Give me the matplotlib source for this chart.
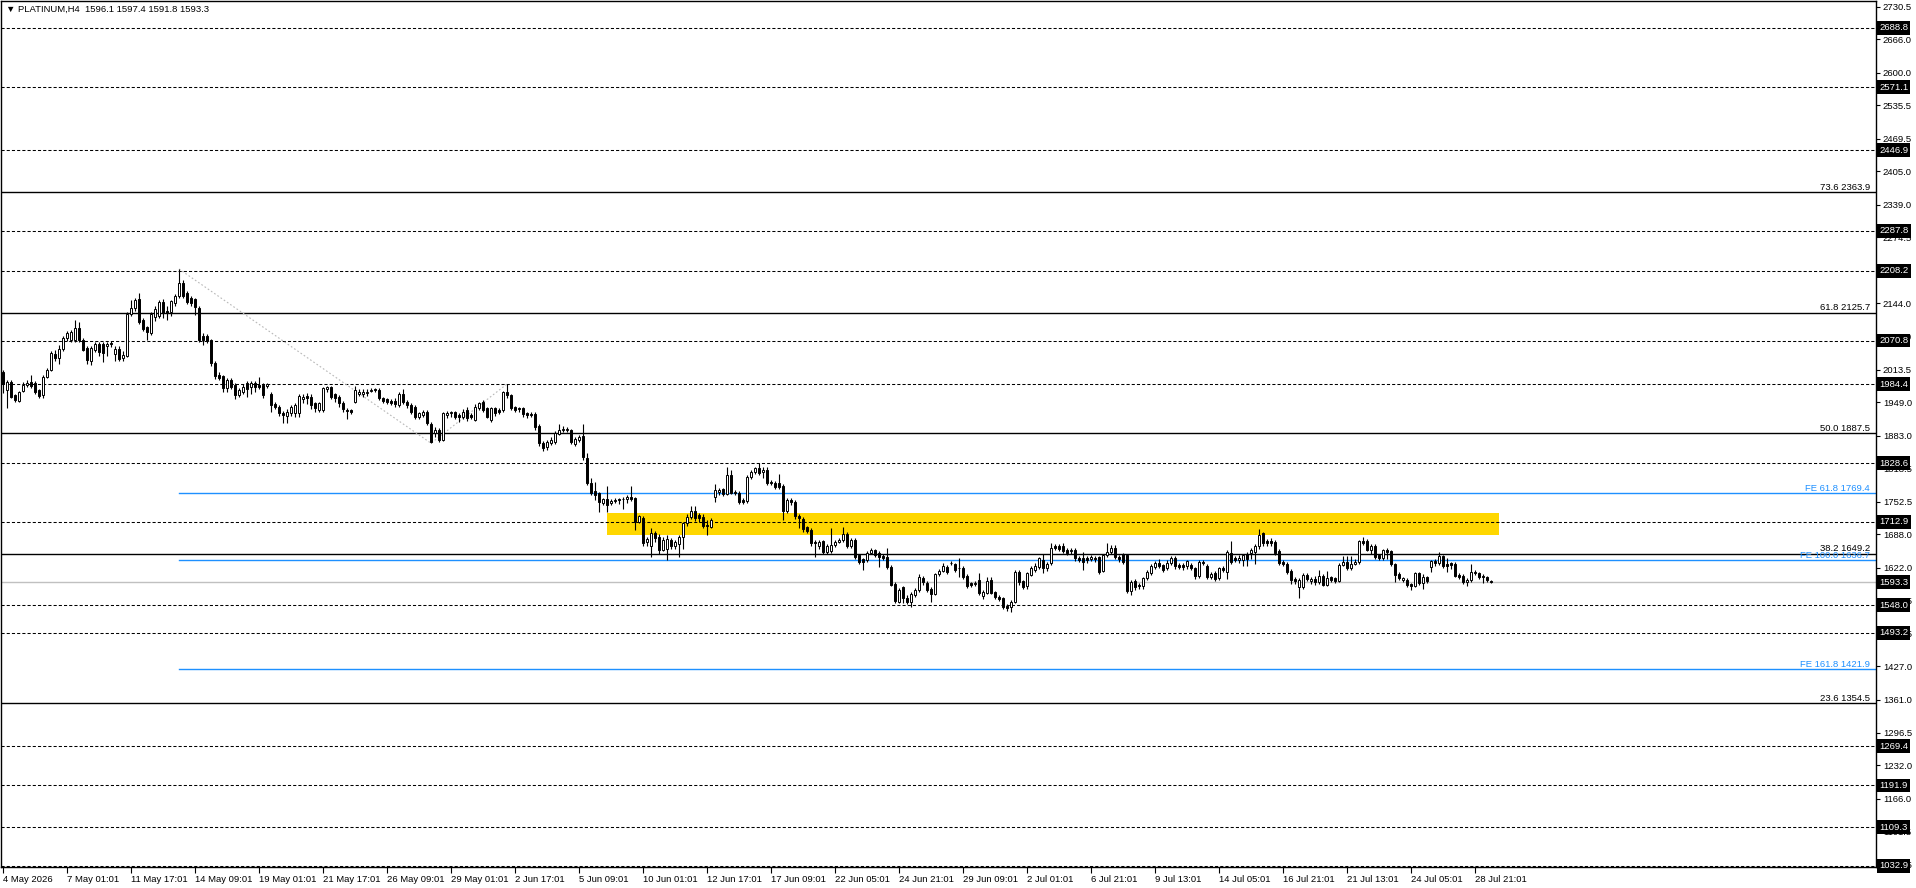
import matplotlib
matplotlib.use("Agg")
import matplotlib.pyplot as plt
from matplotlib.patches import Rectangle

plt.rcParams['font.family'] = ['Liberation Sans', 'DejaVu Sans']

# H4 candles (open, high, low, close)
opens = [2009, 1973, 1989, 1963, 1952, 1972, 1983, 1988, 1987, 1973, 1963, 1998, 2013, 2045, 2036, 2055, 2075, 2071, 2072, 2095,
         2072, 2057, 2030, 2052, 2064, 2064, 2061, 2065, 2045, 2055, 2036, 2040, 2123, 2135, 2152, 2112, 2097, 2086, 2118, 2119,
         2147, 2130, 2128, 2144, 2158, 2184, 2165, 2154, 2152, 2136, 2080, 2080, 2071, 2026, 2003, 2000, 1977, 1993, 1983, 1963,
         1970, 1986, 1980, 1986, 1983, 1983, 1982, 1966, 1945, 1940, 1928, 1921, 1927, 1927, 1927, 1956, 1962, 1960, 1947, 1934,
         1934, 1976, 1979, 1965, 1960, 1948, 1934, 1934, 1950, 1966, 1965, 1967, 1972, 1976, 1974, 1957, 1955, 1952, 1952, 1944,
         1966, 1950, 1944, 1940, 1920, 1924, 1930, 1906, 1888, 1894, 1875, 1924, 1927, 1929, 1924, 1920, 1934, 1924, 1914, 1937,
         1950, 1937, 1914, 1937, 1934, 1934, 1970, 1963, 1939, 1937, 1937, 1927, 1926, 1926, 1902, 1869, 1861, 1868, 1871, 1887,
         1894, 1894, 1894, 1867, 1874, 1882, 1838, 1789, 1774, 1769, 1749, 1757, 1749, 1753, 1757, 1757, 1757, 1762, 1759, 1713,
         1721, 1672, 1665, 1690, 1683, 1658, 1660, 1677, 1665, 1669, 1682, 1710, 1723, 1734, 1726, 1722, 1707, 1703, 1762, 1771,
         1777, 1767, 1806, 1772, 1770, 1756, 1753, 1802, 1811, 1820, 1812, 1816, 1792, 1790, 1789, 1783, 1735, 1756, 1752, 1724,
         1718, 1702, 1697, 1673, 1665, 1674, 1654, 1656, 1667, 1673, 1677, 1688, 1665, 1677, 1647, 1639, 1637, 1652, 1657, 1651,
         1645, 1644, 1624, 1590, 1555, 1583, 1562, 1555, 1568, 1578, 1601, 1592, 1581, 1571, 1609, 1616, 1624, 1631, 1629, 1622,
         1622, 1606, 1591, 1590, 1598, 1566, 1573, 1598, 1574, 1565, 1562, 1547, 1545, 1555, 1614, 1595, 1585, 1608, 1617, 1623,
         1638, 1621, 1631, 1665, 1665, 1665, 1658, 1656, 1658, 1641, 1641, 1641, 1639, 1641, 1643, 1616, 1647, 1654, 1662, 1644,
         1649, 1647, 1577, 1595, 1588, 1585, 1601, 1612, 1624, 1631, 1627, 1621, 1631, 1641, 1627, 1627, 1625, 1627, 1621, 1606,
         1634, 1626, 1603, 1612, 1601, 1621, 1614, 1651, 1641, 1637, 1637, 1649, 1651, 1654, 1664, 1690, 1674, 1674, 1672, 1656,
         1634, 1630, 1616, 1599, 1583, 1583, 1608, 1595, 1599, 1593, 1606, 1588, 1603, 1601, 1595, 1628, 1634, 1621, 1630, 1634,
         1675, 1674, 1657, 1665, 1647, 1641, 1657, 1655, 1629, 1610, 1597, 1598, 1590, 1586, 1611, 1591, 1603, 1624, 1635, 1631,
         1645, 1630, 1631, 1630, 1608, 1606, 1593, 1597, 1614, 1611, 1606, 1603, 1596.1]
highs = [2013, 1992, 1993, 1965, 1972, 1988, 1992, 2003, 1990, 1976, 2003, 2016, 2050, 2052, 2062, 2080, 2090, 2092, 2111, 2108,
         2075, 2060, 2060, 2068, 2068, 2067, 2068, 2070, 2060, 2060, 2050, 2127, 2150, 2155, 2165, 2116, 2100, 2127, 2140, 2150,
         2152, 2140, 2150, 2163, 2212, 2190, 2168, 2158, 2155, 2140, 2085, 2083, 2074, 2030, 2008, 2003, 1997, 1996, 1986, 1977,
         1985, 1990, 1990, 1990, 1998, 1986, 1987, 1970, 1950, 1943, 1932, 1935, 1944, 1947, 1965, 1965, 1968, 1965, 1950, 1950,
         1980, 1982, 1982, 1968, 1963, 1951, 1938, 1936, 1982, 1975, 1975, 1976, 1978, 1978, 1977, 1960, 1958, 1955, 1957, 1970,
         1975, 1953, 1948, 1943, 1930, 1933, 1933, 1910, 1900, 1898, 1930, 1932, 1932, 1932, 1928, 1935, 1940, 1927, 1945, 1950,
         1953, 1940, 1940, 1940, 1937, 1972, 1985, 1966, 1942, 1940, 1940, 1930, 1929, 1929, 1905, 1872, 1875, 1880, 1892, 1905,
         1902, 1900, 1897, 1880, 1885, 1905, 1848, 1800, 1792, 1772, 1760, 1783, 1757, 1760, 1760, 1762, 1765, 1783, 1762, 1727,
         1725, 1682, 1700, 1695, 1688, 1682, 1687, 1680, 1676, 1687, 1713, 1728, 1743, 1743, 1730, 1728, 1716, 1720, 1788, 1780,
         1780, 1822, 1815, 1776, 1773, 1760, 1805, 1815, 1822, 1828, 1822, 1822, 1795, 1794, 1808, 1787, 1760, 1760, 1756, 1728,
         1722, 1705, 1700, 1676, 1676, 1677, 1668, 1700, 1677, 1680, 1703, 1692, 1680, 1680, 1650, 1642, 1655, 1662, 1660, 1655,
         1650, 1662, 1627, 1593, 1582, 1586, 1568, 1574, 1582, 1610, 1605, 1596, 1584, 1612, 1620, 1632, 1628, 1635, 1632, 1642,
         1625, 1610, 1594, 1595, 1612, 1578, 1603, 1604, 1577, 1568, 1565, 1550, 1558, 1617, 1617, 1598, 1614, 1625, 1632, 1644,
         1650, 1633, 1670, 1669, 1668, 1670, 1661, 1662, 1661, 1645, 1654, 1645, 1647, 1645, 1646, 1650, 1670, 1666, 1666, 1648,
         1652, 1650, 1597, 1600, 1592, 1604, 1618, 1630, 1636, 1640, 1630, 1637, 1645, 1645, 1631, 1631, 1638, 1631, 1624, 1637,
         1638, 1629, 1614, 1616, 1624, 1625, 1658, 1674, 1645, 1648, 1650, 1653, 1662, 1668, 1699, 1692, 1678, 1680, 1676, 1659,
         1638, 1633, 1619, 1603, 1601, 1612, 1612, 1603, 1605, 1618, 1610, 1615, 1606, 1604, 1631, 1645, 1645, 1645, 1640, 1677,
         1683, 1679, 1668, 1668, 1650, 1660, 1661, 1658, 1632, 1613, 1604, 1601, 1592, 1613, 1613, 1609, 1606, 1638, 1640, 1654,
         1648, 1641, 1634, 1633, 1611, 1609, 1601, 1629, 1617, 1614, 1609, 1606, 1597.4]
lows = [1968, 1937, 1957, 1949, 1950, 1970, 1980, 1978, 1965, 1958, 1958, 1996, 2010, 2030, 2025, 2050, 2070, 2068, 2068, 2068,
        2050, 2025, 2022, 2048, 2040, 2028, 2040, 2058, 2030, 2030, 2030, 2038, 2120, 2130, 2104, 2090, 2072, 2082, 2110, 2115,
        2115, 2112, 2120, 2140, 2155, 2155, 2142, 2140, 2122, 2068, 2062, 2065, 2020, 1995, 1992, 1970, 1970, 1975, 1955, 1960,
        1965, 1960, 1966, 1970, 1975, 1958, 1978, 1930, 1935, 1922, 1908, 1907, 1922, 1920, 1920, 1948, 1945, 1935, 1930, 1930,
        1930, 1970, 1955, 1950, 1940, 1930, 1915, 1925, 1948, 1962, 1960, 1962, 1969, 1970, 1954, 1948, 1946, 1943, 1940, 1940,
        1946, 1938, 1925, 1915, 1915, 1920, 1903, 1868, 1880, 1870, 1872, 1918, 1920, 1915, 1910, 1915, 1912, 1915, 1912, 1933,
        1930, 1917, 1910, 1922, 1925, 1930, 1958, 1933, 1930, 1930, 1920, 1918, 1920, 1895, 1863, 1852, 1855, 1865, 1866, 1884,
        1890, 1890, 1867, 1862, 1870, 1835, 1785, 1765, 1756, 1733, 1745, 1733, 1745, 1750, 1748, 1738, 1750, 1754, 1697, 1710,
        1665, 1665, 1644, 1672, 1650, 1655, 1637, 1660, 1660, 1644, 1660, 1705, 1718, 1715, 1712, 1700, 1687, 1700, 1752, 1765,
        1763, 1765, 1768, 1765, 1748, 1748, 1750, 1798, 1808, 1805, 1800, 1785, 1785, 1778, 1778, 1716, 1730, 1745, 1718, 1700,
        1693, 1690, 1665, 1644, 1660, 1650, 1650, 1652, 1663, 1670, 1673, 1662, 1662, 1640, 1630, 1618, 1633, 1650, 1643, 1624,
        1637, 1620, 1585, 1553, 1552, 1553, 1551, 1544, 1565, 1574, 1588, 1575, 1555, 1568, 1606, 1613, 1610, 1628, 1614, 1604,
        1600, 1582, 1584, 1586, 1568, 1560, 1570, 1570, 1560, 1556, 1540, 1536, 1535, 1552, 1588, 1580, 1580, 1605, 1614, 1620,
        1612, 1615, 1627, 1658, 1655, 1652, 1647, 1650, 1636, 1633, 1618, 1632, 1636, 1634, 1610, 1613, 1644, 1650, 1640, 1633,
        1630, 1573, 1568, 1578, 1580, 1580, 1598, 1608, 1620, 1622, 1614, 1618, 1627, 1620, 1619, 1618, 1620, 1617, 1600, 1602,
        1628, 1600, 1600, 1596, 1597, 1614, 1600, 1630, 1633, 1632, 1626, 1625, 1640, 1630, 1660, 1665, 1665, 1665, 1647, 1628,
        1626, 1610, 1590, 1590, 1562, 1580, 1595, 1590, 1588, 1589, 1585, 1585, 1594, 1592, 1593, 1625, 1618, 1618, 1627, 1630,
        1666, 1655, 1650, 1639, 1637, 1637, 1640, 1626, 1594, 1597, 1593, 1584, 1578, 1583, 1587, 1580, 1591, 1614, 1626, 1628,
        1622, 1614, 1620, 1603, 1600, 1590, 1585, 1594, 1608, 1600, 1592, 1594, 1591.8]
closes = [1985, 1989, 1960, 1953, 1970, 1983, 1987, 1981, 1970, 1962, 1998, 2013, 2046, 2036, 2055, 2075, 2085, 2088, 2095, 2072,
          2053, 2032, 2057, 2064, 2049, 2047, 2064, 2064, 2055, 2034, 2042, 2123, 2135, 2151, 2108, 2094, 2087, 2123, 2134, 2146,
          2125, 2125, 2148, 2159, 2184, 2158, 2146, 2144, 2138, 2072, 2071, 2069, 2026, 2000, 1997, 1977, 1993, 1980, 1963, 1973,
          1980, 1976, 1986, 1980, 1980, 1963, 1984, 1943, 1940, 1927, 1924, 1930, 1940, 1943, 1961, 1960, 1958, 1944, 1937, 1947,
          1978, 1979, 1960, 1957, 1947, 1935, 1932, 1929, 1973, 1970, 1970, 1970, 1973, 1973, 1957, 1952, 1950, 1947, 1945, 1966,
          1950, 1944, 1930, 1920, 1927, 1930, 1907, 1870, 1894, 1875, 1927, 1927, 1929, 1920, 1920, 1930, 1917, 1920, 1940, 1947,
          1934, 1920, 1937, 1927, 1929, 1970, 1963, 1937, 1934, 1935, 1926, 1924, 1924, 1901, 1868, 1858, 1871, 1874, 1888, 1894,
          1897, 1897, 1871, 1877, 1881, 1840, 1789, 1769, 1766, 1751, 1757, 1746, 1753, 1756, 1756, 1757, 1762, 1757, 1713, 1724,
          1670, 1678, 1690, 1680, 1658, 1677, 1678, 1665, 1672, 1683, 1710, 1722, 1734, 1720, 1720, 1705, 1705, 1716, 1776, 1775,
          1768, 1805, 1770, 1769, 1751, 1751, 1802, 1811, 1820, 1809, 1815, 1790, 1789, 1782, 1782, 1735, 1756, 1751, 1724, 1720,
          1698, 1695, 1670, 1671, 1672, 1654, 1665, 1667, 1673, 1677, 1688, 1665, 1677, 1644, 1634, 1634, 1652, 1657, 1647, 1644,
          1641, 1624, 1588, 1557, 1579, 1562, 1555, 1570, 1578, 1603, 1593, 1579, 1571, 1609, 1616, 1625, 1614, 1631, 1618, 1621,
          1604, 1586, 1588, 1592, 1573, 1575, 1596, 1573, 1564, 1560, 1544, 1542, 1555, 1614, 1593, 1583, 1611, 1621, 1625, 1641,
          1622, 1629, 1662, 1662, 1660, 1656, 1651, 1658, 1641, 1637, 1634, 1637, 1643, 1639, 1614, 1647, 1654, 1662, 1644, 1639,
          1634, 1577, 1593, 1583, 1585, 1601, 1614, 1625, 1631, 1626, 1618, 1632, 1641, 1626, 1624, 1624, 1635, 1621, 1606, 1634,
          1632, 1603, 1610, 1600, 1621, 1618, 1654, 1634, 1637, 1641, 1647, 1639, 1658, 1665, 1687, 1670, 1670, 1670, 1651, 1632,
          1630, 1614, 1597, 1595, 1597, 1608, 1599, 1599, 1593, 1606, 1588, 1601, 1598, 1595, 1628, 1634, 1621, 1630, 1634, 1674,
          1670, 1658, 1665, 1643, 1641, 1657, 1654, 1629, 1608, 1601, 1601, 1588, 1586, 1611, 1591, 1604, 1595, 1635, 1631, 1645,
          1626, 1626, 1628, 1606, 1603, 1593, 1598, 1613, 1611, 1603, 1603, 1597, 1593.3]

x_labels = ["4 May 2026", "7 May 01:01", "11 May 17:01", "14 May 09:01", "19 May 01:01", "21 May 17:01",
            "26 May 09:01", "29 May 01:01", "2 Jun 17:01", "5 Jun 09:01", "10 Jun 01:01", "12 Jun 17:01",
            "17 Jun 09:01", "22 Jun 05:01", "24 Jun 21:01", "29 Jun 09:01", "2 Jul 01:01", "6 Jul 21:01",
            "9 Jul 13:01", "14 Jul 05:01", "16 Jul 21:01", "21 Jul 13:01", "24 Jul 05:01", "28 Jul 21:01"]
y_ticks = [2730.5, 2666.0, 2600.0, 2535.5, 2469.5, 2405.0, 2339.0, 2274.5, 2208.5, 2144.0, 2078.0, 2013.5,
           1949.0, 1883.0, 1818.5, 1752.5, 1688.0, 1622.0, 1557.5, 1491.5, 1427.0, 1361.0, 1296.5, 1232.0,
           1166.0, 1101.5, 1035.5]

# horizontal levels
sr_levels = [2688.8, 2571.1, 2446.9, 2287.8, 2208.2, 2070.8, 1984.4, 1828.6, 1712.9, 1548.0, 1493.2,
             1269.4, 1191.9, 1109.3, 1032.9]
fib_names = ["73.6", "61.8", "50.0", "38.2", "23.6"]
fib_levels = [2363.9, 2125.7, 1887.5, 1649.2, 1354.5]
fe_names = ["61.8", "100.0", "161.8"]
fe_levels = [1769.4, 1636.7, 1421.9]
bid = 1593.3
zone = (151, 374, 1686.7, 1730.8)       # bar from, bar to, low, high
fe_points_x = [44, 107, 126]
fe_points_y = [2212.2, 1868.0, 1985.0]
fe_start = 44

W, H = 1916, 888
fig = plt.figure(figsize=(W / 100, H / 100), dpi=100)
ax = fig.add_axes([1 / W, (H - 867) / H, 1875 / W, 866 / H])
ax.set_xlim(-0.5, 468.25)
ax.set_ylim(1030.9, 2741.5)

fs = 6.8
blue = "#1E90FF"
box = dict(boxstyle="square,pad=0.25", facecolor="black", edgecolor="none")


def price_box(lv):
    ax.annotate("%.1f" % lv, xy=(1, lv), xycoords=("axes fraction", "data"), xytext=(3, 0),
                textcoords="offset pixels", ha="left", va="center", color="white", fontsize=fs,
                bbox=box, annotation_clip=False, zorder=6)


# zone
zx0, zx1, zlo, zhi = zone
ax.add_patch(Rectangle((zx0, zlo), zx1 - zx0, zhi - zlo, facecolor="#FFD700", edgecolor="none", zorder=0.5))

# levels
for lv in sr_levels:
    ax.axhline(lv, color="black", lw=0.75, linestyle=(0, (3, 2)), zorder=1)
    price_box(lv)
for name, lv in zip(fib_names, fib_levels):
    ax.axhline(lv, color="black", lw=1.0, zorder=1)
    ax.text(466.7, lv + 1, "%s %.1f" % (name, lv), ha="right", va="bottom", fontsize=fs, color="black", zorder=5)
for name, lv in zip(fe_names, fe_levels):
    ax.plot([fe_start, 468.25], [lv, lv], color=blue, lw=1.0, zorder=1)
    ax.text(466.7, lv + 1, "FE %s %.1f" % (name, lv), ha="right", va="bottom", fontsize=fs, color=blue, zorder=5)
ax.axhline(bid, color="#C0C0C0", lw=1.0, zorder=1)
price_box(bid)

ax.plot(fe_points_x, fe_points_y, color="#B8B8B8", lw=0.8, linestyle=(0, (1.5, 2)), zorder=1.5)

# candles
idx = list(range(len(closes)))
ax.vlines(idx, lows, highs, color="black", lw=0.8, zorder=2)
faces = ["white" if c > o else "black" for o, c in zip(opens, closes)]
ax.bar(idx, [c - o for o, c in zip(opens, closes)], bottom=opens, width=0.62,
       color=faces, edgecolor="black", linewidth=0.7, zorder=3)

# axes look
for s in ax.spines.values():
    s.set_linewidth(1.0)
    s.set_color("black")
ax.yaxis.tick_right()
ax.set_yticks(y_ticks)
ax.set_yticklabels(["%.1f" % v for v in y_ticks])
ax.set_xticks(range(0, 369, 16))
ax.set_xticklabels(x_labels, ha="left")
ax.tick_params(axis="y", direction="out", length=3, width=0.8, pad=2, labelsize=fs)
ax.tick_params(axis="x", direction="out", length=4, width=0.8, pad=2, labelsize=fs)

fig.text(6 / W, 1 - 9 / H, "\u25bc PLATINUM,H4  1596.1 1597.4 1591.8 1593.3", fontsize=fs,
         ha="left", va="center", color="black")

fig.savefig("out.png", dpi=100)
